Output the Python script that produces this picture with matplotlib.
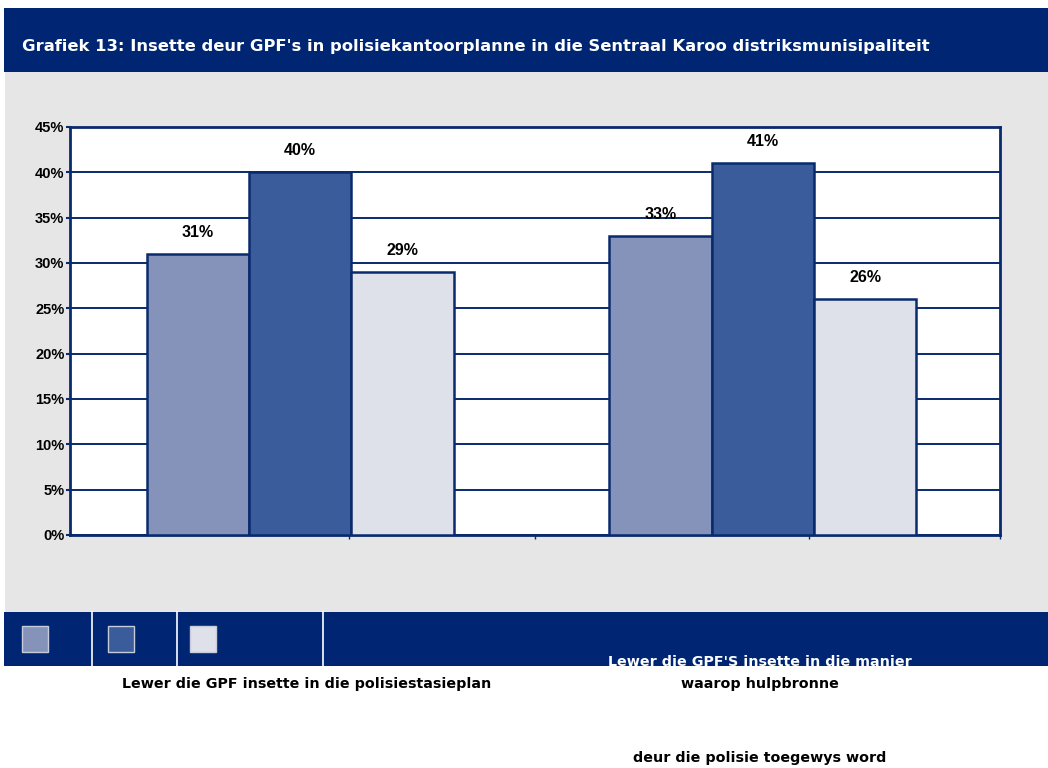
import matplotlib.pyplot as plt
from matplotlib.patches import Rectangle
from matplotlib.lines import Line2D

# data
groups = ["Lewer die GPF insette in die polisiestasieplan",
          "Lewer die GPF'S insette in die manier waarop hulpbronne deur die polisie toegewys word"]
series_a = [31, 33]
series_b = [40, 41]
series_c = [29, 26]
yticks = [0, 5, 10, 15, 20, 25, 30, 35, 40, 45]

navy = "#002673"
line_navy = "#0A2A6E"
colors = ["#8593BA", "#3A5C9A", "#DEE1EA"]

W, H = 1048, 768
fig = plt.figure(figsize=(W / 100, H / 100), dpi=100)
fig.patch.set_facecolor("white")


def box(x0, y0, x1, y1, **kw):
    fig.patches.append(Rectangle((x0 / W, 1 - y1 / H), (x1 - x0) / W, (y1 - y0) / H,
                                 transform=fig.transFigure, **kw))


def vline(x, y0, y1, **kw):
    fig.lines.append(Line2D([x / W, x / W], [1 - y0 / H, 1 - y1 / H],
                            transform=fig.transFigure, **kw))


# backgrounds
box(5, 72, 1048, 612, facecolor="#E6E6E6", edgecolor="none", zorder=0)
box(4, 8, 1048, 72, facecolor=navy, edgecolor="none", zorder=1)
box(4, 612, 1048, 666, facecolor=navy, edgecolor="none", zorder=1)
for x in [92, 177, 323]:
    vline(x, 612, 666, color="white", lw=1.2, zorder=2)
for x0, c in zip([22, 108, 190], colors):
    box(x0, 626, x0 + 26, 652, facecolor=c, edgecolor="#C8CCDA", lw=1, zorder=3)

tfont = "DejaVu Sans"
fig.text(22 / W, 1 - 46 / H,
         "Grafiek 13: Insette deur GPF's in polisiekantoorplanne in die Sentraal Karoo distriksmunisipaliteit",
         color="white", fontsize=11.8, fontweight="bold", family=tfont, va="center", ha="left")

# legend texts
fig.text(307 / W, 1 - 684 / H, groups[0], fontsize=10.3, fontweight="bold",
         family=tfont, ha="center", va="center", color="black")
fig.text(760 / W, 1 - 662 / H, "Lewer die GPF'S insette in die manier", fontsize=10.3,
         fontweight="bold", family=tfont, ha="center", va="center", color="white", zorder=5)
fig.text(760 / W, 1 - 684 / H, "waarop hulpbronne", fontsize=10.3, fontweight="bold",
         family=tfont, ha="center", va="center", color="black")
fig.text(760 / W, 1 - 758 / H, "deur die polisie toegewys word", fontsize=10.3,
         fontweight="bold", family=tfont, ha="center", va="center", color="black")

ax = fig.add_axes([70 / W, 1 - 535 / H, 930 / W, 408 / H])
ax.set_facecolor("white")
ax.set_zorder(4)

x = [-0.005, 0.99]
bw = 0.22
for i, (vals, c) in enumerate(zip([series_a, series_b, series_c], colors)):
    pos = [xx + (i - 1) * bw for xx in x]
    ax.bar(pos, vals, width=bw, color=c, edgecolor=line_navy, linewidth=1.8, zorder=3)
    for p, v in zip(pos, vals):
        ax.text(p, v + 2.4, f"{v}%", ha="center", va="center", fontsize=11.5,
                fontweight="bold", family="Liberation Sans", zorder=4)

ax.set_xlim(-0.5, 1.5)
ax.set_ylim(0, 45)
ax.set_yticks(yticks)
ax.set_yticklabels([f"{t}%" for t in yticks], fontsize=10.5, fontweight="bold",
                   family="Liberation Sans")
ax.yaxis.grid(True, color=line_navy, lw=1.4, zorder=1)
ax.set_axisbelow(True)
ax.set_xticks([0.1, 0.5, 1.09, 1.5])
ax.set_xticklabels([])
ax.tick_params(axis="x", length=3, color=line_navy, width=1)
ax.tick_params(axis="y", length=3, color=line_navy, width=1.5, pad=1)
for s in ax.spines.values():
    s.set_color(line_navy)
    s.set_linewidth(2)

fig.savefig("out.png", dpi=100)
